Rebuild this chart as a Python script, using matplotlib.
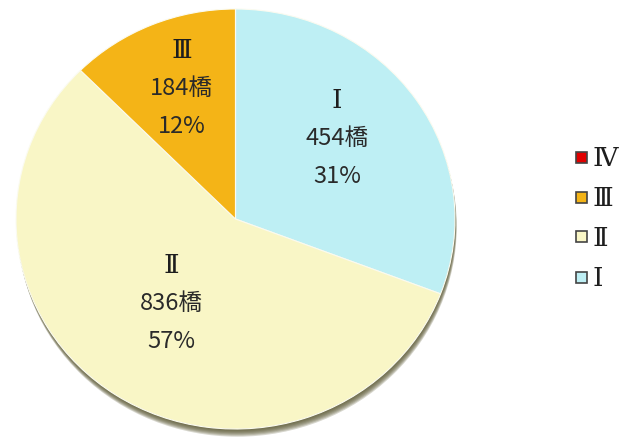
import numpy as np
import matplotlib
matplotlib.use('Agg')
import matplotlib.pyplot as plt
from matplotlib.patches import Ellipse, Rectangle

# 橋梁の健全度区分ごとの橋数
categories = ['Ⅰ', 'Ⅱ', 'Ⅲ', 'Ⅳ']
counts = [454, 836, 184, 0]
colors = ['#BEEFF4', '#F9F6C6', '#F4B417', '#E00000']

serif_fam = ['DejaVu Serif', 'Noto Sans CJK JP']
sans_fam = ['Noto Sans CJK JP', 'DejaVu Sans']

W, H = 620, 443
cx, cy = 235.5, 219.0   # 円の中心 (px)
rx, ry = 219.5, 210.0   # 横・縦の半径 (px)

fig = plt.figure(figsize=(W / 100, H / 100), dpi=100)
fig.patch.set_facecolor('white')
ax = fig.add_axes([0, 0, 1, 1])

# 影（下側に少しずらした楕円を重ねる）
for k in range(1, 8):
    ax.add_patch(Ellipse((0.25 * k / rx, -1.1 * k / ry), 2, 2,
                         facecolor='#5a5732', edgecolor='none',
                         alpha=0.24, zorder=0))

wedges, _ = ax.pie(counts, colors=colors, startangle=90, counterclock=False,
                   radius=1, center=(0, 0),
                   wedgeprops=dict(edgecolor='#fbfbf0', linewidth=0.8))
for w in wedges:
    w.set_zorder(2)

ax.set_aspect('auto')
ax.set_xlim(-cx / rx, (W - cx) / rx)
ax.set_ylim((cy - H) / ry, cy / ry)
ax.axis('off')

# ラベル（区分・橋数・割合）
total = sum(counts)
label_r = [0.60, 0.50, 0.67]
label_nudge = [5, -3, -1]
line_gap = 38 / ry
for i, w in enumerate(wedges[:3]):
    ang = np.deg2rad((w.theta1 + w.theta2) / 2 + label_nudge[i])
    x = label_r[i] * np.cos(ang)
    y = label_r[i] * np.sin(ang)
    pct = round(counts[i] / total * 100)
    ax.text(x, y + line_gap, categories[i], ha='center', va='center',
            fontsize=19, family=serif_fam, color='#1e1e1e', zorder=5)
    ax.text(x, y, f'{counts[i]}橋', ha='center', va='center',
            fontsize=17, family=sans_fam, color='#2a2a2a', zorder=5)
    ax.text(x, y - line_gap, f'{pct}%', ha='center', va='center',
            fontsize=17, family=sans_fam, color='#2a2a2a', zorder=5)

# 凡例（Ⅳ→Ⅰの順に上から）
for row, i in enumerate(range(len(categories) - 1, -1, -1)):
    yc = 157 + 40 * row
    fig.add_artist(Rectangle((576 / W, 1 - (yc + 5.5) / H), 11 / W, 11 / H,
                             transform=fig.transFigure,
                             facecolor=colors[i], edgecolor='#444444',
                             linewidth=1.2))
    fig.text(592 / W, 1 - (yc + 2) / H, categories[i], ha='left',
             va='center', fontsize=19, family=serif_fam, color='#1e1e1e')

fig.savefig('out.png', dpi=100, facecolor='white')
